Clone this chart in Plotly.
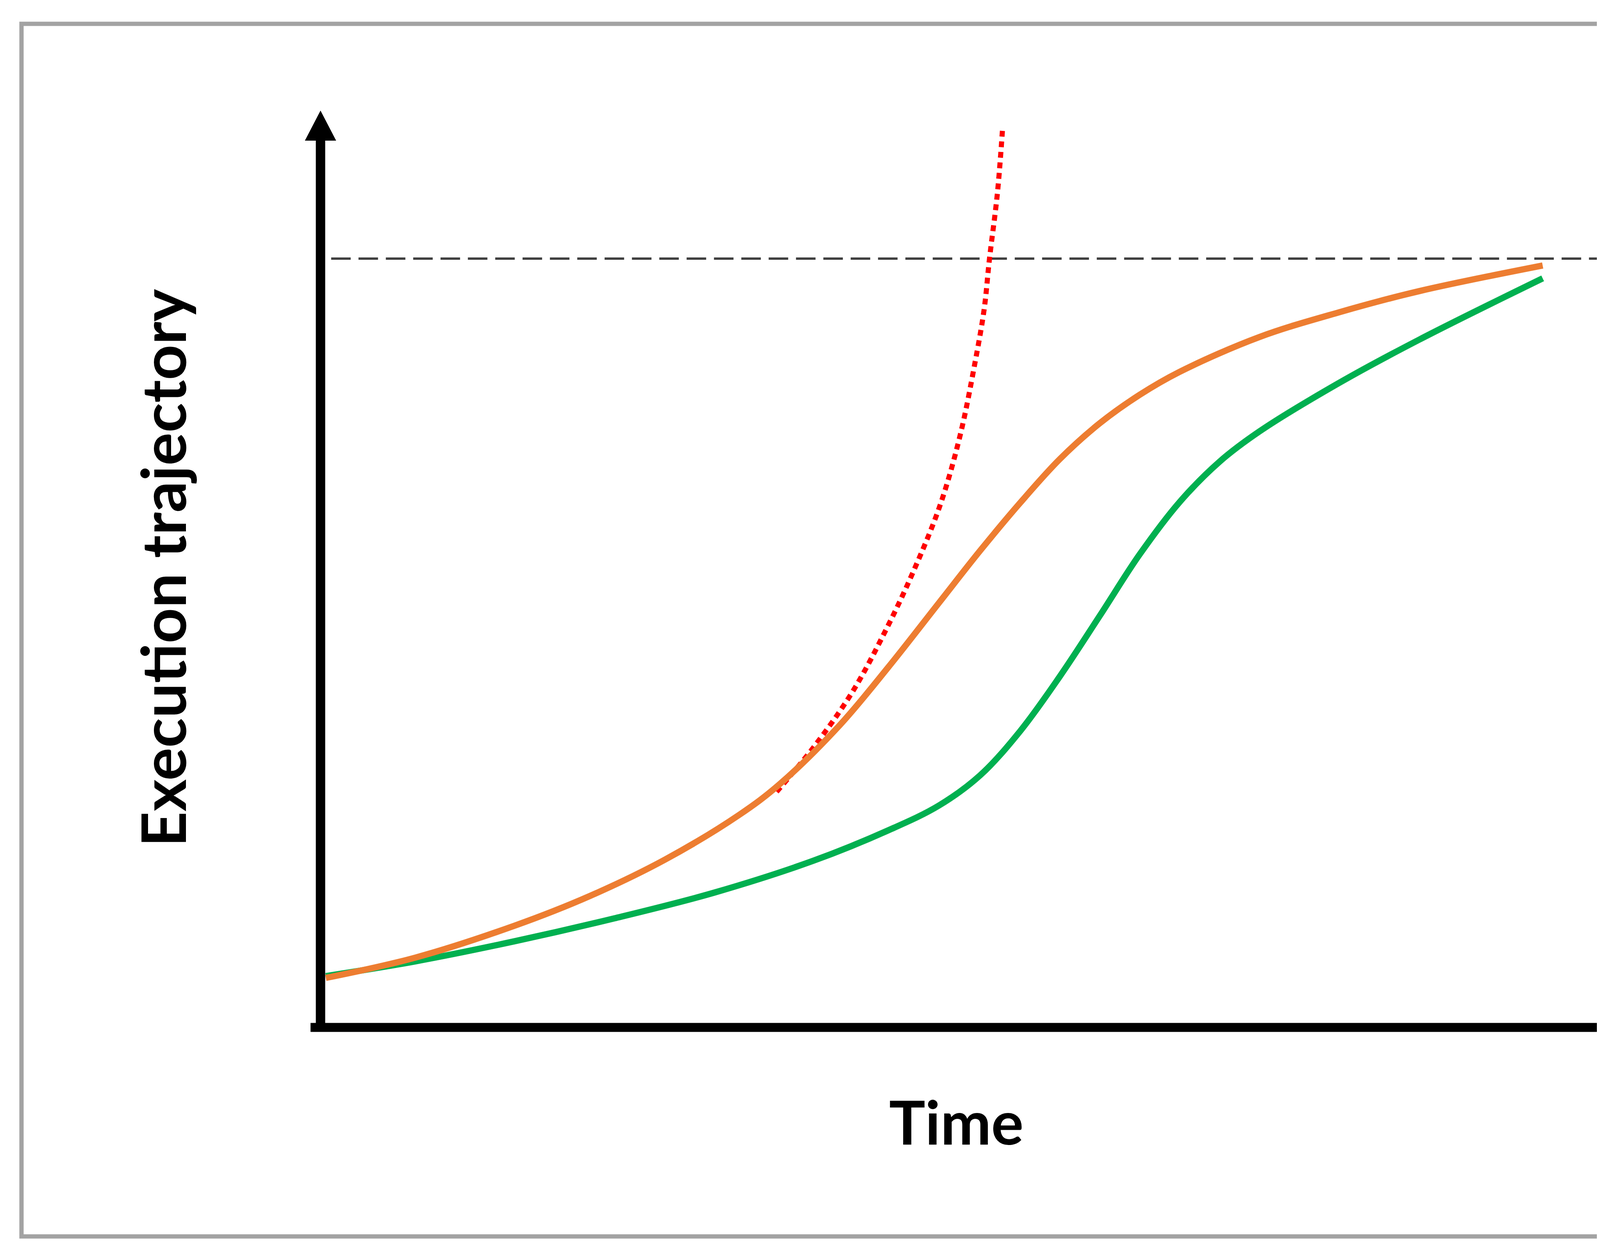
import plotly.graph_objects as go

# curves (time vs. execution trajectory, both 0..100)
orange_t = [0.4, 7.1, 14.6, 20.2, 25.9, 31.5, 34.5, 39.0, 42.7, 46.5, 49.6, 52.6,
            55.6, 58.6, 61.6, 64.6, 70.6, 76.6, 82.6, 91.9]
orange_y = [5.4, 7.6, 11.1, 14.3, 18.3, 23.2, 26.5, 32.9, 39.3, 46.3, 52.0, 57.2,
            62.0, 65.9, 69.0, 71.5, 75.3, 78.0, 80.3, 83.1]

green_t = [0.4, 7.1, 14.6, 22.1, 29.6, 37.1, 42.7, 46.5, 49.6, 52.6, 55.6, 58.6,
           61.6, 64.6, 67.6, 70.6, 76.6, 82.6, 91.9]
green_y = [5.6, 7.2, 9.4, 11.9, 14.7, 18.2, 21.5, 24.2, 27.5, 32.3, 38.3, 44.9,
           51.6, 57.3, 61.7, 65.0, 70.3, 75.0, 81.7]

red_t = [34.3, 37.1, 40.0, 42.6, 44.6, 46.6, 48.1, 49.2, 49.9, 50.3, 50.9, 51.3]
red_y = [25.7, 30.6, 36.6, 43.6, 49.8, 57.0, 64.6, 72.4, 78.3, 83.8, 91.0, 98.3]

limit_t = [0.8, 99.9]
limit_level = 83.85

fig = go.Figure()

fig.add_trace(go.Scatter(x=limit_t, y=[limit_level, limit_level], mode="lines",
                         line=dict(color="#404040", width=6, dash="50px,20px")))
fig.add_trace(go.Scatter(x=red_t, y=red_y, mode="lines", line_shape="spline",
                         line=dict(color="#FF0000", width=13, dash="15px,12px", simplify=False)))
fig.add_trace(go.Scatter(x=green_t, y=green_y, mode="lines", line_shape="spline",
                         line=dict(color="#00B050", width=16, simplify=False)))
fig.add_trace(go.Scatter(x=orange_t, y=orange_y, mode="lines", line_shape="spline",
                         line=dict(color="#ED7D31", width=16, simplify=False)))

# frame around the figure
fig.add_shape(type="rect", xref="paper", yref="paper",
              x0=47/4560, x1=4513/4560, y0=1-3157/3210, y1=1-53/3210,
              line=dict(color="#A3A3A3", width=11), layer="below")

# axes drawn as thick arrows
fig.add_shape(type="line", x0=-0.75, x1=97.9, y0=0, y1=0,
              line=dict(color="black", width=23))
fig.add_shape(type="line", x0=0, x1=0, y0=-0.4, y1=96.8,
              line=dict(color="black", width=24))
fig.add_shape(type="path", xsizemode="pixel", ysizemode="pixel", xanchor=100, yanchor=0,
              path="M0,0 L-76,39 L-76,-39 Z", fillcolor="black", line=dict(width=0))
fig.add_shape(type="path", xsizemode="pixel", ysizemode="pixel", xanchor=0, yanchor=100,
              path="M0,0 L-40,-77 L40,-77 Z", fillcolor="black", line=dict(width=0))

fig.add_annotation(text="Execution trajectory", xref="paper", yref="paper",
                   x=407/4560, y=1-1446/3210, xanchor="center", yanchor="middle",
                   textangle=-90, showarrow=False,
                   font=dict(family="Lato", size=158, color="black", weight="bold"))
fig.add_annotation(text="Time", xref="paper", yref="paper",
                   x=2440/4560, y=1-2862/3210, xanchor="center", yanchor="middle",
                   showarrow=False,
                   font=dict(family="Lato", size=155, color="black", weight="bold"))

fig.update_xaxes(range=[-23.866, 110.075], visible=False)
fig.update_yaxes(range=[-25.053, 111.717], visible=False)
fig.update_layout(width=4560, height=3210, margin=dict(l=0, r=0, t=0, b=0),
                  plot_bgcolor="white", paper_bgcolor="white", showlegend=False)

fig.write_html("out.html")
